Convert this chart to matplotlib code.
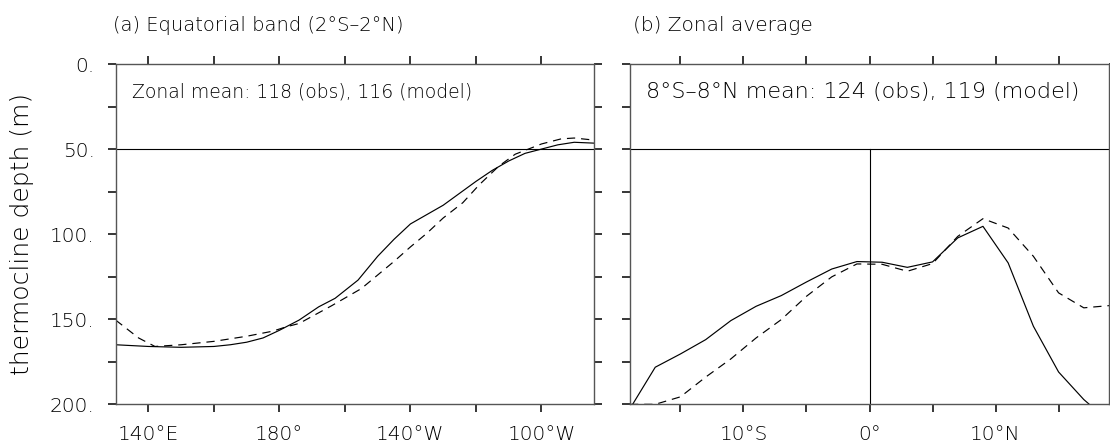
import numpy as np
import matplotlib
matplotlib.use('Agg')
import matplotlib.pyplot as plt

plt.rcParams['font.family'] = ['DejaVu Sans']
plt.rcParams['font.size'] = 14.5
plt.rcParams['font.weight'] = 'light'
plt.rcParams['text.color'] = 'black'

# (a) equatorial band, longitude in degrees east
lon_obs = [130, 140, 150, 160, 165, 170, 175, 180, 186, 192, 197, 204, 210, 215,
           220, 225, 230, 235, 240, 245, 250, 255, 260, 265, 270, 276]
dep_obs_a = [165, 166, 166.5, 166, 165, 163.5, 161, 156.5, 150.5, 142.7, 137.7, 127,
             113, 103, 94, 88.5, 83, 76, 69, 62.5, 57, 52.5, 50, 47.5, 46, 46.5]
lon_mod = [130, 137, 142, 150, 160, 170, 178, 182, 186, 196, 205, 210, 215, 220,
           225, 230, 236, 241, 247, 252, 256, 260, 266, 270, 276]
dep_mod_a = [150.5, 161, 166, 165, 163, 160, 157, 154.5, 152.5, 142, 132, 124, 116,
             107.5, 99.5, 90.5, 81.5, 71, 60, 53, 50, 47, 44, 43.5, 44.7]

# (b) zonal average, latitude
lat = [-19, -17, -15, -13, -11, -9, -7, -5, -3, -1, 1, 3, 5, 7, 9, 11, 13, 15, 17, 19]
dep_obs_b = [202.5, 178.2, 170.4, 162, 150.8, 142.4, 136.1, 128.1, 120.5, 116.1,
             116.5, 119.5, 116.3, 102.2, 95.4, 116.9, 154.1, 181, 197.2, 210]
dep_mod_b = [200, 200, 195.6, 184, 173.3, 161, 150.2, 136.5, 125.1, 117.5,
             117.7, 121.8, 117.3, 101.3, 90.9, 96.4, 113, 134.5, 143.3, 142]

lon_ticks = [140, 160, 180, 200, 220, 240, 260]
lon_labels = ['140°E', '', '180°', '', '140°W', '', '100°W']
lat_ticks = [-15, -10, -5, 0, 5, 10, 15]
lat_labels = ['', '10°S', '', '0°', '', '10°N', '']
depth_ticks = [0, 50, 100, 150, 200]
depth_labels = ['0.', '50.', '100.', '150.', '200.']

fig = plt.figure(figsize=(11.1, 4.47), dpi=100)
ax1 = fig.add_axes([0.1042, 0.0955, 0.4308, 0.7613])
ax2 = fig.add_axes([0.5676, 0.0955, 0.4315, 0.7613])

for ax in (ax1, ax2):
    ax.set_ylim(200, 0)
    ax.set_yticks(depth_ticks)
    ax.set_yticks([25, 75, 125, 175], minor=True)
    ax.tick_params(which='both', direction='out', length=6, width=1.1,
                   top=True, right=True, pad=9, color='k', labelcolor='black')
    for s in ax.spines.values():
        s.set_color('#555555')
        s.set_linewidth(1.0)
    ax.axhline(50, color='k', lw=0.8)

ax1.plot(lon_obs, dep_obs_a, color='k', lw=0.85)
ax1.plot(lon_mod, dep_mod_a, color='k', lw=0.85, ls=(0, (7, 5)))
ax1.set_xlim(130, 276)
ax1.set_xticks(lon_ticks)
ax1.set_xticklabels(lon_labels)
ax1.set_yticklabels(depth_labels)
ax1.text(0.034, 0.918, 'Zonal mean: 118 (obs), 116 (model)', transform=ax1.transAxes,
         va='center', ha='left', fontsize=13.5)

ax2.plot(lat, dep_obs_b, color='k', lw=0.85)
ax2.plot(lat, dep_mod_b, color='k', lw=0.85, ls=(0, (7, 5)))
ax2.axvline(0, ymin=0, ymax=0.75, color='k', lw=0.8)
ax2.set_xlim(-19, 19)
ax2.set_xticks(lat_ticks)
ax2.set_xticklabels(lat_labels)
ax2.set_yticklabels([])
ax2.text(0.034, 0.918, '8°S–8°N mean: 124 (obs), 119 (model)', transform=ax2.transAxes,
         va='center', ha='left', fontsize=16)

fig.text(0.102, 0.944, '(a) Equatorial band (2°S–2°N)', ha='left', va='center', fontsize=14)
fig.text(0.570, 0.944, '(b) Zonal average', ha='left', va='center', fontsize=14.5)
fig.text(0.02, 0.476, 'thermocline depth (m)', rotation=90, ha='center', va='center',
         fontsize=18)

fig.savefig('out.png', dpi=100)
